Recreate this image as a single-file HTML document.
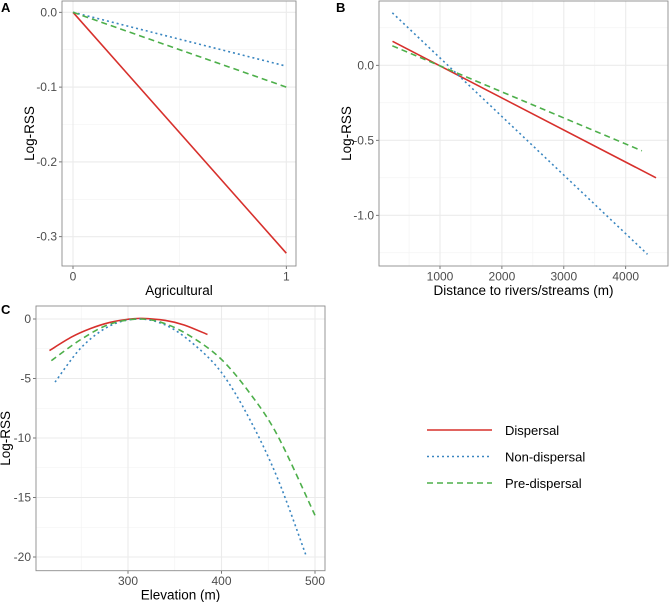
<!DOCTYPE html>
<html><head><meta charset="utf-8">
<style>
body{margin:0;background:#fff;font-family:"Liberation Sans",Arial,sans-serif;}
svg text{font-family:"Liberation Sans",Arial,sans-serif;}
</style></head>
<body>
<svg id="fig" width="669" height="602" viewBox="0 0 669 602" xmlns="http://www.w3.org/2000/svg"></svg>
<script>
// Panel A data
const aX = [0, 1];
const aDispersal = [0, -0.322];
const aNonDispersal = [0, -0.072];
const aPreDispersal = [0, -0.100];
const aYTicks = [0.0, -0.1, -0.2, -0.3];
const aYTickLabels = ["0.0", "-0.1", "-0.2", "-0.3"];
const aXTicks = [0, 1];
const aXTickLabels = ["0", "1"];
// Panel B data
const bDispX = [233, 4490];
const bDispY = [0.16, -0.75];
const bNonX = [230, 4352];
const bNonY = [0.35, -1.26];
const bPreX = [230, 4262];
const bPreY = [0.13, -0.57];
const bYTicks = [0.0, -0.5, -1.0];
const bYTickLabels = ["0.0", "-0.5", "-1.0"];
const bXTicks = [1000, 2000, 3000, 4000];
const bXTickLabels = ["1000", "2000", "3000", "4000"];
// Panel C data
const cDispX = [216, 240, 260, 280, 300, 315, 340, 360, 385];
const cDispY = [-2.65, -1.5, -0.8, -0.3, -0.02, 0.05, -0.12, -0.5, -1.3];
const cNonX = [222, 250, 280, 310, 340, 370, 400, 430, 460, 491];
const cNonY = [-5.3, -2.4, -0.6, 0, -0.5, -2.1, -4.5, -8.4, -13.4, -20];
const cPreX = [218, 250, 280, 312, 340, 370, 400, 430, 460, 500];
const cPreY = [-3.5, -1.7, -0.45, 0, -0.4, -1.6, -3.4, -6.2, -9.8, -16.5];
const cYTicks = [0, -5, -10, -15, -20];
const cYTickLabels = ["0", "-5", "-10", "-15", "-20"];
const cXTicks = [300, 400, 500];
const cXTickLabels = ["300", "400", "500"];
// Legend
const legendLabels = ["Dispersal", "Non-dispersal", "Pre-dispersal"];

const NS = "http://www.w3.org/2000/svg";
const svg = document.getElementById('fig');
const RED = "#d7302c", BLUE = "#3a86c0", GREEN = "#4daf4a";
const styles = [{c: RED, d: null}, {c: BLUE, d: "2,3"}, {c: GREEN, d: "6,4"}];

function mk(tag, attrs, parent) {
  const e = document.createElementNS(NS, tag);
  for (const k in attrs) e.setAttribute(k, attrs[k]);
  (parent || svg).appendChild(e);
  return e;
}
function lin(d0, d1, r0, r1) { return v => r0 + (v - d0) * (r1 - r0) / (d1 - d0); }
function smoothPath(pts) {
  if (pts.length < 3) return "M" + pts.map(p => p[0].toFixed(2) + "," + p[1].toFixed(2)).join("L");
  let d = "M" + pts[0][0].toFixed(2) + "," + pts[0][1].toFixed(2);
  for (let i = 0; i < pts.length - 1; i++) {
    const p0 = pts[Math.max(0, i - 1)], p1 = pts[i], p2 = pts[i + 1], p3 = pts[Math.min(pts.length - 1, i + 2)];
    const c1 = [p1[0] + (p2[0] - p0[0]) / 6, p1[1] + (p2[1] - p0[1]) / 6];
    const c2 = [p2[0] - (p3[0] - p1[0]) / 6, p2[1] - (p3[1] - p1[1]) / 6];
    d += "C" + c1[0].toFixed(2) + "," + c1[1].toFixed(2) + " " + c2[0].toFixed(2) + "," + c2[1].toFixed(2) + " " + p2[0].toFixed(2) + "," + p2[1].toFixed(2);
  }
  return d;
}

function panel(o) {
  const g = mk('g', {});
  
  
  const sx = o.sx, sy = o.sy;
  o.xMinor.forEach(v => { const l = mk('line', {x1: sx(v), x2: sx(v), y1: o.top, y2: o.bottom, stroke: "#f2f2f2", "stroke-width": 0.6}, g);   });
  o.yMinor.forEach(v => { const l = mk('line', {x1: o.left, x2: o.right, y1: sy(v), y2: sy(v), stroke: "#f2f2f2", "stroke-width": 0.6}, g);   });
  o.xTicks.forEach((v, i) => {
    const l = mk('line', {x1: sx(v), x2: sx(v), y1: o.top, y2: o.bottom, stroke: "#ebebeb", "stroke-width": 1.1}, g);
     
    mk('line', {x1: sx(v), x2: sx(v), y1: o.bottom, y2: o.bottom + 3, stroke: "#555", "stroke-width": 0.8}, g);
    const t = mk('text', {x: sx(v), y: o.bottom + 14.5, "text-anchor": "middle", "font-size": 12, fill: "#4d4d4d"}, g);
    t.textContent = o.xLabels[i];
     
  });
  o.yTicks.forEach((v, i) => {
    const l = mk('line', {x1: o.left, x2: o.right, y1: sy(v), y2: sy(v), stroke: "#ebebeb", "stroke-width": 1.1}, g);
     
    mk('line', {x1: o.left - 3, x2: o.left, y1: sy(v), y2: sy(v), stroke: "#555", "stroke-width": 0.8}, g);
    const t = mk('text', {x: o.left - 5, y: sy(v) + 4, "text-anchor": "end", "font-size": 12, fill: "#4d4d4d"}, g);
    t.textContent = o.yLabels[i];
     
  });
  o.series.forEach((s, i) => {
    const pts = s.x.map((xv, j) => [sx(xv), sy(s.y[j])]);
    const p = mk('path', {d: smoothPath(pts), fill: "none", stroke: styles[i].c, "stroke-width": 1.6, "stroke-linejoin": "round"}, g);
    if (styles[i].d) p.setAttribute('stroke-dasharray', styles[i].d);
    
    
  });
  const b = mk('rect', {x: o.left, y: o.top, width: o.right - o.left, height: o.bottom - o.top, fill: "none", stroke: "#8c8c8c", "stroke-width": 0.9}, g);
   
  const xt = mk('text', {x: (o.left + o.right) / 2, y: o.bottom + 29, "text-anchor": "middle", "font-size": 13.5, fill: "#000"}, g);
  xt.textContent = o.xTitle;
   
  const yc = (o.top + o.bottom) / 2;
  const yt = mk('text', {x: o.yTitleX, y: yc, "text-anchor": "middle", "font-size": 13.5, fill: "#000", transform: `rotate(-90 ${o.yTitleX} ${yc})`}, g);
  yt.textContent = "Log-RSS";
   
  const pl = mk('text', {x: o.tagX, y: o.tagY, "font-size": 13, "font-weight": "bold", fill: "#000"}, g);
  pl.textContent = o.tag;
   
}

panel({name: "panel-a", tag: "A", tagX: 1, tagY: 12, left: 62, right: 296, top: 1, bottom: 266,
  sx: lin(0, 1, 73, 286.3), sy: lin(0, -0.3, 12.3, 236.7),
  xTicks: aXTicks, xLabels: aXTickLabels, yTicks: aYTicks, yLabels: aYTickLabels,
  xMinor: [0.5], yMinor: [-0.05, -0.15, -0.25], xTitle: "Agricultural", yTitleX: 34,
  series: [{x: aX, y: aDispersal}, {x: aX, y: aNonDispersal}, {x: aX, y: aPreDispersal}]});

panel({name: "panel-b", tag: "B", tagX: 336, tagY: 12, left: 379, right: 668, top: 1, bottom: 266,
  sx: lin(1000, 4000, 440, 625.7), sy: lin(0, -1, 65.3, 215.3),
  xTicks: bXTicks, xLabels: bXTickLabels, yTicks: bYTicks, yLabels: bYTickLabels,
  xMinor: [500, 1500, 2500, 3500], yMinor: [0.25, -0.25, -0.75, -1.25], xTitle: "Distance to rivers/streams (m)", yTitleX: 351,
  series: [{x: bDispX, y: bDispY}, {x: bNonX, y: bNonY}, {x: bPreX, y: bPreY}]});

panel({name: "panel-c", tag: "C", tagX: 1, tagY: 314, left: 36, right: 325, top: 306, bottom: 570.7,
  sx: lin(300, 500, 128, 315), sy: lin(0, -20, 319, 557),
  xTicks: cXTicks, xLabels: cXTickLabels, yTicks: cYTicks, yLabels: cYTickLabels,
  xMinor: [250, 350, 450], yMinor: [-2.5, -7.5, -12.5, -17.5], xTitle: "Elevation (m)", yTitleX: 10,
  series: [{x: cDispX, y: cDispY}, {x: cNonX, y: cNonY}, {x: cPreX, y: cPreY}]});

const lg = mk('g', {});


legendLabels.forEach((lab, i) => {
  const y = 430 + i * 26.5;
  const l = mk('line', {x1: 427, x2: 492, y1: y, y2: y, stroke: styles[i].c, "stroke-width": 1.6}, lg);
  if (styles[i].d) l.setAttribute('stroke-dasharray', styles[i].d);
  
  
  const t = mk('text', {x: 505, y: y + 5, "font-size": 13, fill: "#000"}, lg);
  t.textContent = lab;
  
  
});
</script>
</body></html>
